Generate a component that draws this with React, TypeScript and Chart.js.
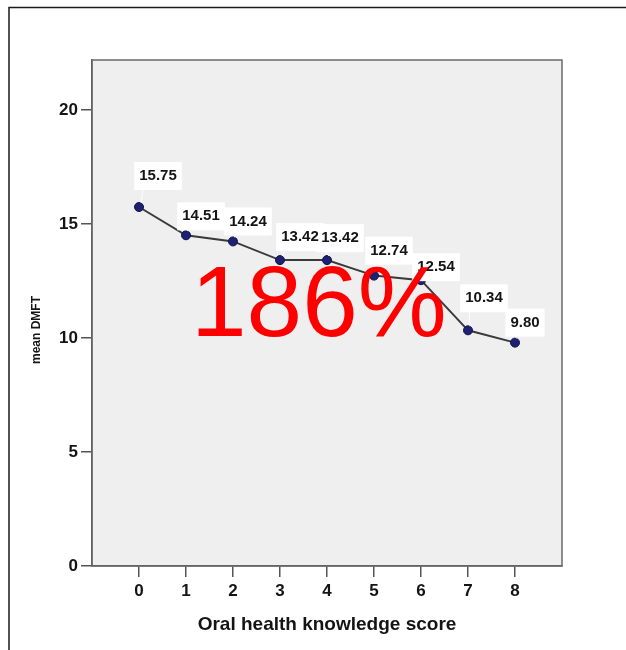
import React, { useEffect, useRef } from "react";
import { Chart, registerables } from "chart.js";

Chart.register(...registerables);

// Mean DMFT by oral health knowledge score
const scores = [0, 1, 2, 3, 4, 5, 6, 7, 8];
const meanDMFT = [15.75, 14.51, 14.24, 13.42, 13.42, 12.74, 12.54, 10.34, 9.8];
const yTicks = [0, 5, 10, 15, 20];
const xTitle = "Oral health knowledge score";
const yTitle = "mean DMFT";
const stamp = "186%";

const FONT = '"Liberation Sans", Arial, sans-serif';
const INK = "#141414";

// where each value label sits relative to its point (text centre, px)
const labelOffsets: [number, number][] = [
  [19, -31],
  [15, -19],
  [15, -20],
  [20, -23],
  [13, -22],
  [15, -25],
  [15, -13],
  [16, -32],
  [10, -20],
];

const decorPlugin = {
  id: "decor",
  beforeDraw(chart: any) {
    const { ctx, chartArea: a, width, height } = chart;
    ctx.save();
    ctx.fillStyle = "#ffffff";
    ctx.fillRect(0, 0, width, height);
    // plot panel
    ctx.fillStyle = "#efefef";
    ctx.fillRect(a.left, a.top, a.right - a.left, a.bottom - a.top);
    // outer frame (top and left edges)
    ctx.strokeStyle = "#1a1a1a";
    ctx.lineWidth = 1.5;
    ctx.beginPath();
    ctx.moveTo(9, height);
    ctx.lineTo(9, 7.5);
    ctx.lineTo(width, 7.5);
    ctx.stroke();
    ctx.restore();
  },
  beforeDatasetsDraw(chart: any) {
    const { ctx, chartArea: a } = chart;
    ctx.save();
    ctx.strokeStyle = "#6a6a6a";
    ctx.lineWidth = 1.5;
    ctx.strokeRect(a.left, a.top, a.right - a.left, a.bottom - a.top);
    ctx.restore();
  },
  afterDatasetsDraw(chart: any) {
    const { ctx } = chart;
    const meta = chart.getDatasetMeta(0);
    ctx.save();
    ctx.font = `bold 15px ${FONT}`;
    const items = meta.data.map((pt: any, i: number) => {
      const [dx, dy] = labelOffsets[i] || [15, -22];
      const text = meanDMFT[i].toFixed(2);
      const w = ctx.measureText(text).width;
      return { px: pt.x, py: pt.y, cx: pt.x + dx, cy: pt.y + dy, text, w };
    });
    // leader lines and label boxes
    items.forEach((it: any) => {
      ctx.strokeStyle = "rgba(255,255,255,0.9)";
      ctx.lineWidth = 1;
      ctx.beginPath();
      ctx.moveTo(it.px + 2, it.py - 4);
      ctx.lineTo(it.cx - it.w / 2 + 4, it.cy + 13);
      ctx.stroke();
      ctx.fillStyle = "#ffffff";
      ctx.fillRect(it.cx - it.w / 2 - 5, it.cy - 14, it.w + 10, 28);
    });
    ctx.fillStyle = INK;
    ctx.textAlign = "center";
    ctx.textBaseline = "middle";
    items.forEach((it: any) => ctx.fillText(it.text, it.cx, it.cy));
    ctx.restore();
  },
  afterDraw(chart: any) {
    const { ctx } = chart;
    ctx.save();
    // vertical axis title
    ctx.translate(37, 330);
    ctx.rotate(-Math.PI / 2);
    ctx.font = `bold 12px ${FONT}`;
    ctx.fillStyle = INK;
    ctx.textAlign = "center";
    ctx.textBaseline = "middle";
    ctx.fillText(yTitle, 0, 0);
    ctx.restore();

    ctx.save();
    ctx.font = `100px ${FONT}`;
    ctx.fillStyle = "#ff0000";
    ctx.textAlign = "left";
    ctx.textBaseline = "alphabetic";
    ctx.fillText(stamp, 191, 336);
    ctx.restore();
  },
};

export default function App() {
  const canvasRef = useRef<HTMLCanvasElement | null>(null);

  useEffect(() => {
    document.body.style.margin = "0";
    const canvas = canvasRef.current;
    if (!canvas) return;

    const tickFont = { family: FONT, size: 17, weight: "bold" as const };
    const axisGrid = {
      drawOnChartArea: false,
      drawTicks: true,
      tickLength: 11,
      color: "#555555",
      lineWidth: 1.5,
    };
    const axisBorder = { display: true, color: "#555555", width: 1.5 };

    const chart = new Chart(canvas, {
      type: "line",
      data: {
        datasets: [
          {
            label: yTitle,
            data: scores.map((s, i) => ({ x: s, y: meanDMFT[i] })),
            borderColor: "#3a3a3a",
            borderWidth: 2,
            pointRadius: 4.5,
            pointBackgroundColor: "#1d2170",
            pointBorderColor: "#11134d",
            pointBorderWidth: 1,
            tension: 0,
          },
        ],
      },
      options: {
        animation: false,
        responsive: false,
        maintainAspectRatio: false,
        layout: { padding: { top: 60, right: 64, left: 0, bottom: 0 } },
        plugins: {
          legend: { display: false },
          tooltip: { enabled: false },
        },
        scales: {
          x: {
            type: "linear",
            min: -1,
            max: 9,
            afterBuildTicks: (s: any) => {
              s.ticks = scores.map((v) => ({ value: v }));
            },
            afterFit: (s: any) => {
              s.height = 84;
            },
            grid: axisGrid,
            border: axisBorder,
            ticks: {
              color: INK,
              font: tickFont,
              padding: 4,
              maxRotation: 0,
              autoSkip: false,
            },
            title: {
              display: true,
              text: xTitle,
              color: INK,
              font: { family: FONT, size: 19, weight: "bold" },
              padding: { top: 0, bottom: 14 },
            },
          },
          y: {
            type: "linear",
            min: 0,
            max: 22.2,
            afterBuildTicks: (s: any) => {
              s.ticks = yTicks.map((v) => ({ value: v }));
            },
            afterFit: (s: any) => {
              s.width = 92;
            },
            grid: axisGrid,
            border: axisBorder,
            ticks: {
              color: INK,
              font: tickFont,
              padding: 3,
              autoSkip: false,
            },
          },
        },
      },
      plugins: [decorPlugin],
    });

    return () => chart.destroy();
  }, []);

  return (
    <canvas
      ref={canvasRef}
      width={626}
      height={650}
      style={{ display: "block", width: 626, height: 650 }}
    />
  );
}
